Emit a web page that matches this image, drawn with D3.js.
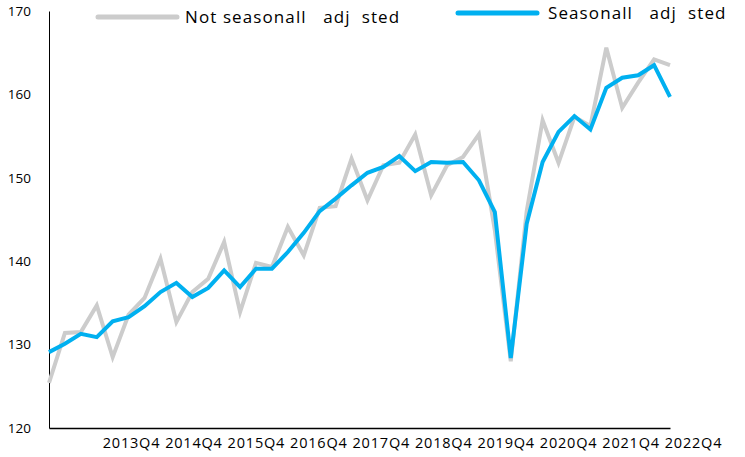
<!DOCTYPE html>
<html>
<head>
<meta charset="utf-8">
<script src="https://cdn.jsdelivr.net/npm/d3@7"></script>
<style>
  body { margin: 0; background: #fff; }
  svg text { font-family: "Open Sans", sans-serif; fill: #000; }
</style>
</head>
<body>
<svg id="chart" width="745" height="457"></svg>
<script>
// Quarterly index, 2013Q1 .. 2022Q4
const quarters = [];
for (let y = 2013; y <= 2022; y++) {
  for (let q = 1; q <= 4; q++) quarters.push(y + "Q" + q);
}

const notAdjusted = [
  125.4, 131.4, 131.5, 134.7, 128.5, 133.6, 135.6, 140.3, 132.7, 136.3,
  137.9, 142.3, 133.9, 139.8, 139.3, 144.1, 140.7, 146.4, 146.6, 152.3,
  147.3, 151.5, 151.8, 155.2, 147.9, 151.5, 152.5, 155.2, 143.7, 128.0,
  146.0, 156.9, 151.8, 157.3, 156.2, 165.6, 158.4, 161.4, 164.2, 163.5
];

const adjusted = [
  129.1, 130.1, 131.3, 130.9, 132.8, 133.3, 134.6, 136.3, 137.4, 135.7,
  136.8, 138.9, 136.9, 139.1, 139.1, 141.1, 143.4, 146.0, 147.5, 149.1,
  150.6, 151.3, 152.6, 150.8, 151.9, 151.8, 151.9, 149.7, 145.9, 128.4,
  144.5, 151.9, 155.5, 157.4, 155.8, 160.8, 162.0, 162.3, 163.5, 159.7
];

const xLabels = ["2013Q4", "2014Q4", "2015Q4", "2016Q4", "2017Q4",
  "2018Q4", "2019Q4", "2020Q4", "2021Q4", "2022Q4"];
const yTicks = [120, 130, 140, 150, 160, 170];

const legendItems = [
  { name: "Not seasonall   adj  sted", color: "#cccccc" },
  { name: "Seasonall   adj  sted", color: "#00b0f0" }
];

const svg = d3.select("#chart");

const x = d3.scalePoint().domain(quarters).range([49, 670]);
const y = d3.scaleLinear().domain([120, 170]).range([428, 11]);
const xLab = d3.scalePoint().domain(xLabels).range([131, 693]);

// axes
const yAxis = svg.append("g")
  .attr("transform", "translate(49,0)")
  .call(d3.axisLeft(y).tickValues(yTicks).tickSize(0).tickPadding(18));
yAxis.select(".domain").attr("stroke", "#000").attr("stroke-width", 1);
yAxis.selectAll("text").style("font-size", "13.5px");

const xAxis = svg.append("g")
  .attr("transform", "translate(0,428)")
  .call(d3.axisBottom(x).tickValues([]).tickSize(0));
xAxis.select(".domain").attr("stroke", "#000").attr("stroke-width", 1.3);

svg.append("g")
  .attr("transform", "translate(0,428)")
  .call(d3.axisBottom(xLab).tickSize(0).tickPadding(10))
  .call(g => g.select(".domain").remove())
  .selectAll("text")
  .style("font-size", "14.5px")
  .style("letter-spacing", "0.8px");

// lines
const line = d3.line()
  .x((d, i) => x(quarters[i]))
  .y(d => y(d));

svg.append("path")
  .datum(notAdjusted)
  .attr("fill", "none")
  .attr("stroke", legendItems[0].color)
  .attr("stroke-width", 4)
  .attr("d", line);

svg.append("path")
  .datum(adjusted)
  .attr("fill", "none")
  .attr("stroke", legendItems[1].color)
  .attr("stroke-width", 4)
  .attr("d", line);

// legend
const legendPos = [{ x: 97, y: 17, tx: 88 }, { x: 457, y: 13, tx: 91 }];
const lg = svg.append("g").selectAll("g")
  .data(legendItems)
  .join("g")
  .attr("transform", (d, i) => `translate(${legendPos[i].x},${legendPos[i].y})`);

lg.append("line")
  .attr("x1", 1).attr("x2", 80)
  .attr("stroke", d => d.color)
  .attr("stroke-width", 5)
  .attr("stroke-linecap", "round");

lg.append("text")
  .attr("x", (d, i) => legendPos[i].tx)
  .attr("dy", "0.35em")
  .style("font-size", "17px")
  .style("letter-spacing", "1.1px")
  .style("white-space", "pre")
  .text(d => d.name);
</script>
</body>
</html>
